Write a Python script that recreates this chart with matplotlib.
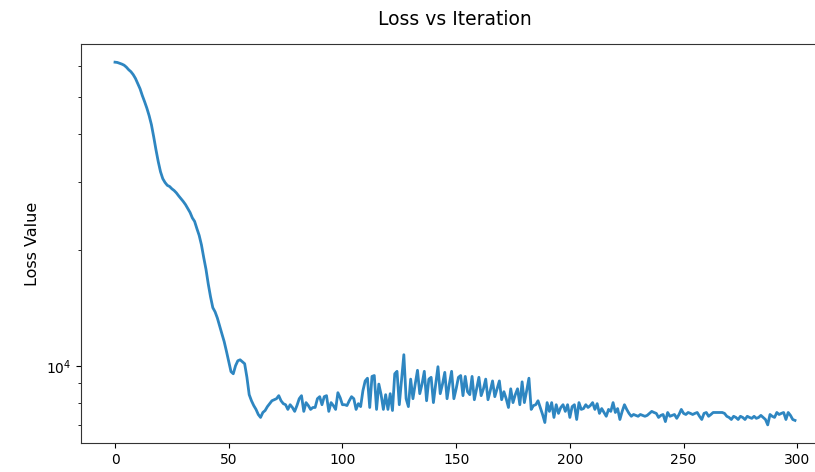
import matplotlib
matplotlib.use("Agg")
import matplotlib.pyplot as plt
from matplotlib.ticker import NullFormatter

iterations = list(range(300))

loss = [
    61400, 61300, 61000, 60700, 60300, 59600, 58700, 58000, 57000, 55700,
    54000, 52400, 50300, 48500, 46650, 44600, 42270, 39330, 36400, 33900,
    31900, 30600, 29900, 29400, 29200, 28800, 28500, 28100, 27600, 27150,
    26700, 26200, 25600, 25000, 24200, 23700, 22700, 21800, 20600, 19100,
    17800, 16300, 15100, 14150, 13800, 13300, 12700, 12100, 11550, 10900,
    10240, 9650, 9530, 10000, 10300, 10360, 10240, 10120, 9330, 8410,
    8110, 7880, 7700, 7470, 7340, 7560, 7650, 7830, 7970, 8110,
    8160, 8210, 8360, 8110, 7970, 7920, 7700, 7920, 7790, 7610,
    7880, 8210, 8360, 7610, 8020, 7880, 7700, 7790, 7790, 8210,
    8310, 7920, 8310, 8360, 7610, 8020, 7880, 7700, 8510, 8260,
    7920, 7920, 7880, 8110, 8310, 8210, 7700, 7970, 7830, 8610,
    9130, 9280, 7790, 9380, 9430, 7700, 8960, 8410, 7700, 8410,
    7700, 8460, 7650, 9530, 9670, 7920, 9230, 10680, 8210, 7830,
    9230, 8210, 8960, 9730, 8460, 8960, 9670, 8110, 9230, 9330,
    8020, 8960, 9940, 8460, 8960, 9610, 8210, 8960, 9670, 8210,
    8710, 9330, 9430, 8360, 9380, 8560, 8410, 9380, 8160, 8710,
    9330, 8360, 8710, 9230, 8160, 8610, 9130, 8310, 8710, 9130,
    8160, 8560, 8210, 7790, 8710, 8020, 8410, 8710, 7920, 9080,
    8020, 8610, 9280, 7700, 7880, 7920, 8110, 7790, 7470, 7120,
    8020, 7610, 8020, 7340, 7920, 7520, 7790, 7920, 7610, 7920,
    7340, 7830, 7920, 7250, 8020, 7700, 7740, 7920, 7790, 7880,
    8020, 7700, 7970, 7520, 7740, 7560, 7390, 7700, 7610, 8020,
    7560, 7740, 7250, 7610, 7920, 7700, 7520, 7390, 7470, 7430,
    7390, 7470, 7430, 7390, 7430, 7520, 7610, 7560, 7520, 7340,
    7430, 7470, 7160, 7560, 7390, 7430, 7470, 7300, 7470, 7700,
    7520, 7470, 7560, 7520, 7470, 7520, 7560, 7390, 7250, 7520,
    7560, 7390, 7470, 7560, 7560, 7560, 7560, 7560, 7520, 7390,
    7340, 7250, 7390, 7340, 7250, 7390, 7340, 7250, 7390, 7340,
    7300, 7390, 7300, 7340, 7430, 7340, 7250, 7020, 7470, 7390,
    7340, 7560, 7470, 7520, 7560, 7250, 7560, 7430, 7250, 7210,
]

x_ticks = [0, 50, 100, 150, 200, 250, 300]

fig = plt.figure(figsize=(8.15, 4.72), dpi=100)
ax = fig.add_axes([0.0994, 0.0614, 0.9178, 0.8453])

ax.plot(iterations, loss, color="#2e86c1", linewidth=2.0)
ax.set_yscale("log")
ax.yaxis.set_minor_formatter(NullFormatter())
ax.set_xticks(x_ticks)
ax.tick_params(labelsize=10)
for side in ax.spines.values():
    side.set_color("#333333")

ax.set_title("Loss vs Iteration", fontsize=13.5, pad=14)
ax.set_ylabel("Loss Value", fontsize=11.5)

fig.savefig("out.png", dpi=100)
